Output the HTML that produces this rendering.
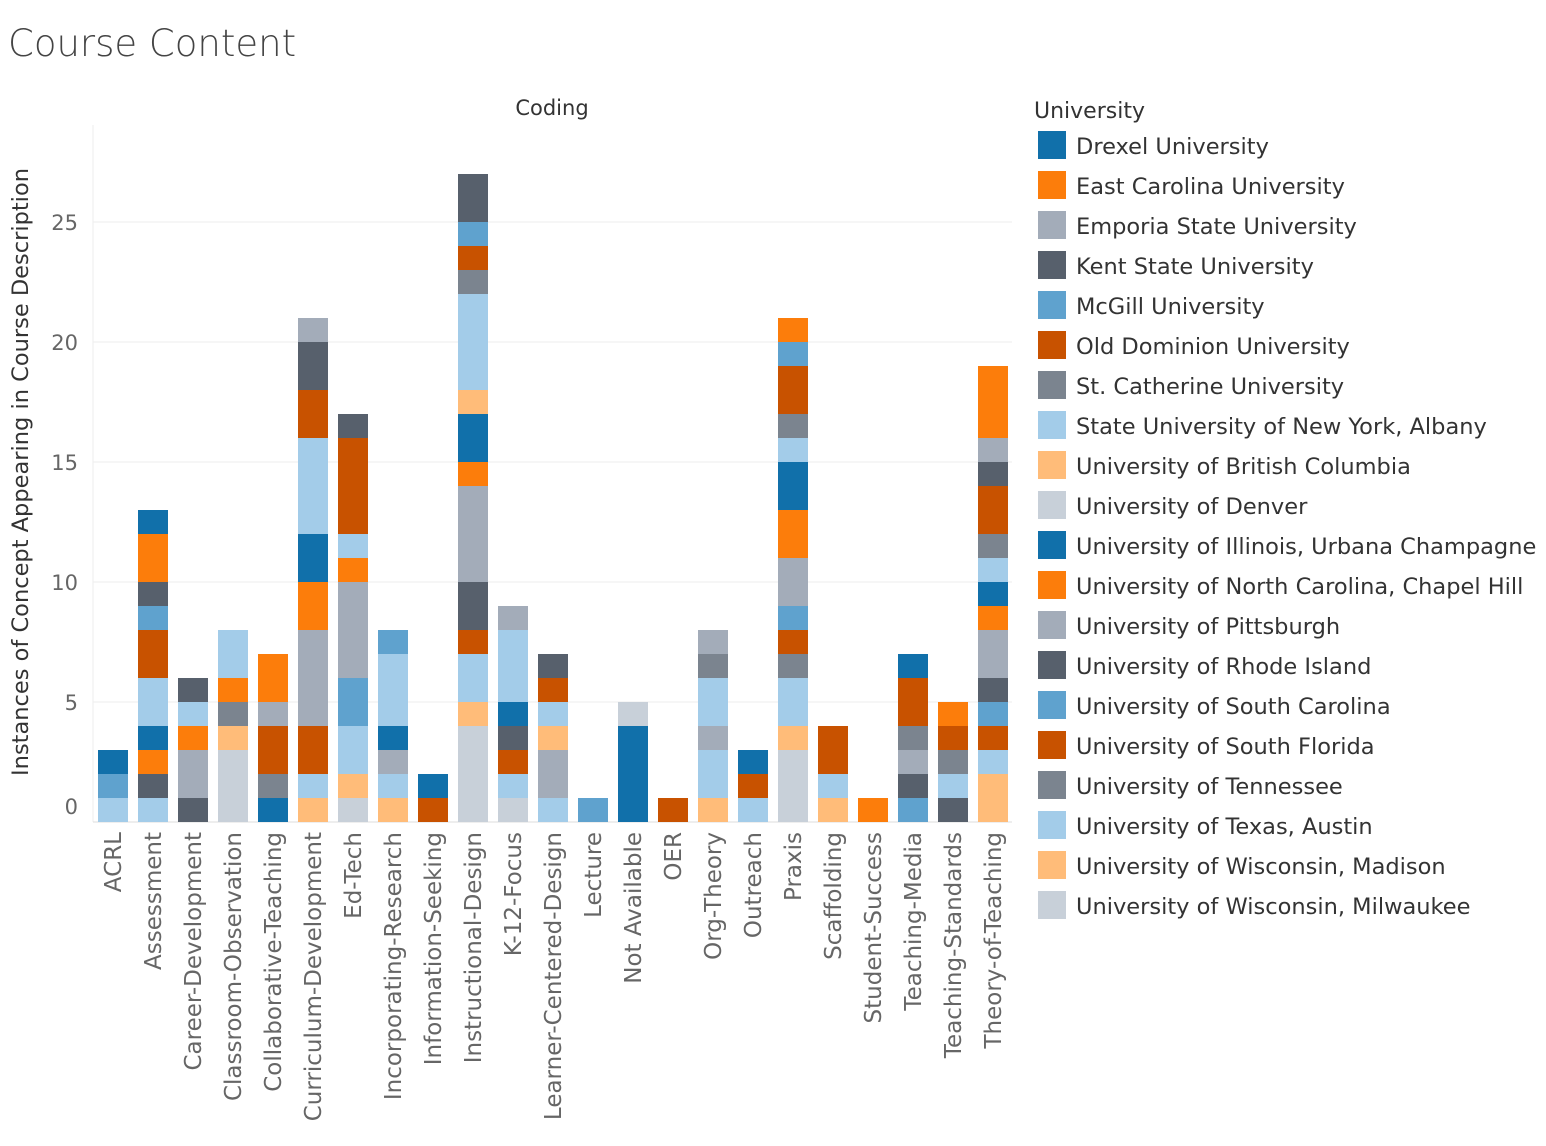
<!DOCTYPE html>
<html><head><meta charset="utf-8"><style>
body{margin:0;background:#fff;font-family:"DejaVu Sans",sans-serif}
svg text{font-family:"DejaVu Sans",sans-serif}
</style></head><body>
<svg id="chart" width="1546" height="1142">
<text x="8" y="56" font-size="37" fill="#444" font-weight="200">Course Content</text>
<text x="552" y="115" font-size="21" fill="#333" text-anchor="middle">Coding</text>
<text transform="translate(28,472) rotate(-90)" font-size="22.5" fill="#333" text-anchor="middle">Instances of Concept Appearing in Course Description</text>
<text x="1034" y="118" font-size="22" fill="#333">University</text>
<g id="grid"></g><g id="bars"></g><g id="xlabels"></g><g id="legend"></g>
</svg>
<script>
const categories=["ACRL","Assessment","Career-Development","Classroom-Observation","Collaborative-Teaching","Curriculum-Development","Ed-Tech","Incorporating-Research","Information-Seeking","Instructional-Design","K-12-Focus","Learner-Centered-Design","Lecture","Not Available","OER","Org-Theory","Outreach","Praxis","Scaffolding","Student-Success","Teaching-Media","Teaching-Standards","Theory-of-Teaching"];
const universities=["Drexel University","East Carolina University","Emporia State University","Kent State University","McGill University","Old Dominion University","St. Catherine University","State University of New York, Albany","University of British Columbia","University of Denver","University of Illinois, Urbana Champagne","University of North Carolina, Chapel Hill","University of Pittsburgh","University of Rhode Island","University of South Carolina","University of South Florida","University of Tennessee","University of Texas, Austin","University of Wisconsin, Madison","University of Wisconsin, Milwaukee"];
const yTicks=[0,5,10,15,20,25];
const drexel=[0,1,0,0,0,0,0,0,0,0,0,0,0,0,0,0,0,0,0,0,1,0,0];
const eastCarolina=[0,2,0,0,2,0,0,0,0,0,0,0,0,0,0,0,0,1,0,1,0,1,3];
const emporia=[0,0,0,0,1,1,0,0,0,0,1,0,0,0,0,1,0,0,0,0,0,0,1];
const kent=[0,1,1,0,0,2,1,0,0,2,0,1,0,0,0,0,0,0,0,0,0,0,1];
const mcgill=[0,1,0,0,0,0,0,1,0,1,0,0,1,0,0,0,0,1,0,0,0,0,0];
const oldDominion=[0,2,0,0,2,2,4,0,0,1,0,1,0,0,1,0,0,2,0,0,2,1,2];
const stCatherine=[0,0,0,0,1,0,0,0,0,1,0,0,0,0,0,1,0,1,0,0,1,1,1];
const suny=[0,2,1,2,0,4,1,3,0,4,3,1,0,0,0,2,0,1,0,0,0,1,1];
const ubc=[0,0,0,0,0,0,0,0,0,1,0,1,0,0,0,0,0,0,0,0,0,0,0];
const denver=[0,0,0,0,0,0,0,0,0,0,0,0,0,1,0,0,0,0,0,0,0,0,0];
const illinois=[1,1,0,0,1,2,0,1,1,2,1,0,0,4,0,0,1,2,0,0,0,0,1];
const unc=[0,1,1,1,0,2,1,0,0,1,0,0,0,0,0,0,0,2,0,0,0,0,1];
const pitt=[0,0,2,0,0,4,4,1,0,4,0,2,0,0,0,1,0,2,0,0,1,0,2];
const rhode=[0,1,1,0,0,0,0,0,0,2,1,0,0,0,0,0,0,0,0,0,1,1,1];
const southCarolina=[1,0,0,0,0,0,2,0,0,0,0,0,0,0,0,0,0,1,0,0,1,0,1];
const southFlorida=[0,0,0,0,0,2,0,0,1,1,1,0,0,0,0,0,1,1,2,0,0,0,1];
const tennessee=[0,0,0,1,0,0,0,0,0,0,0,0,0,0,0,0,0,1,0,0,0,0,0];
const texas=[1,1,0,0,0,1,2,1,0,2,1,1,0,0,0,2,1,2,1,0,0,0,1];
const madison=[0,0,0,1,0,1,1,1,0,1,0,0,0,0,0,1,0,1,1,0,0,0,2];
const milwaukee=[0,0,0,3,0,0,1,0,0,4,1,0,0,0,0,0,0,3,0,0,0,0,0];
const series=[drexel,eastCarolina,emporia,kent,mcgill,oldDominion,stCatherine,suny,ubc,denver,illinois,unc,pitt,rhode,southCarolina,southFlorida,tennessee,texas,madison,milwaukee];
const palette=["#1170aa","#fc7d0b","#a3acb9","#57606c","#5fa2ce","#c85200","#7b848f","#a3cce9","#ffbc79","#c8d0d9"];
const NS="http://www.w3.org/2000/svg";
const y0=822, pxPerUnit=24, x0=113, step=40, bw=30;
const yScale=v=>y0-v*pxPerUnit;
const xScale=i=>x0+i*step;
function mk(tag,attrs,parent){const e=document.createElementNS(NS,tag);for(const k in attrs)e.setAttribute(k,attrs[k]);parent.appendChild(e);return e;}
const grid=document.getElementById('grid');
mk('line',{x1:93,x2:93,y1:125,y2:822,stroke:'#eee'},grid);
yTicks.forEach(t=>{
  const l=mk('line',{x1:93,x2:1012,y1:yScale(t),y2:yScale(t),stroke:t===0?'#ddd':'#eee'},grid);
  
  
  const tx=mk('text',{x:78,y:t===0?yScale(t)-8:yScale(t)+8,'font-size':21,fill:'#666','text-anchor':'end'},grid);
  tx.textContent=t;
  
  
});
const bars=document.getElementById('bars');
categories.forEach((c,i)=>{
  let acc=0;
  for(let s=series.length-1;s>=0;s--){
    const v=series[s][i]; if(!v) continue;
    const r=mk('rect',{x:xScale(i)-bw/2,y:yScale(acc+v),width:bw,height:v*pxPerUnit,fill:palette[s%10]},bars);
    
    
    acc+=v;
  }
  const t=mk('text',{transform:`translate(${xScale(i)+8},832) rotate(-90)`,'font-size':23,fill:'#666','text-anchor':'end'},document.getElementById('xlabels'));
  t.textContent=c;
  
  
});
const leg=document.getElementById('legend');
universities.forEach((u,i)=>{
  const g=mk('g',{},leg);
  
  
  mk('rect',{x:1038,y:131+i*40,width:28,height:28,fill:palette[i%10]},g);
  const t=mk('text',{x:1076,y:154+i*40,'font-size':22.5,fill:'#333'},g);
  t.textContent=u;
});
</script>
</body></html>
